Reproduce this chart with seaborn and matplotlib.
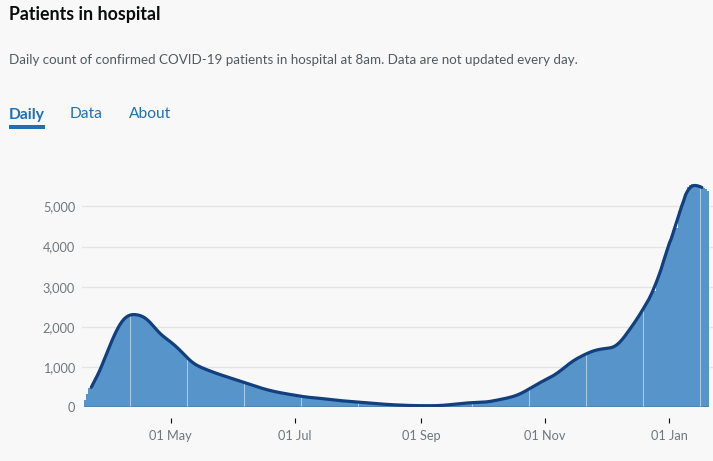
import matplotlib
matplotlib.use("Agg")
import matplotlib.pyplot as plt
import matplotlib.dates as mdates
from matplotlib.patches import Rectangle
from matplotlib.ticker import FuncFormatter
import numpy as np
import pandas as pd
import seaborn as sns

# ---------------- data ----------------
title = "Patients in hospital"
subtitle = ("Daily count of confirmed COVID-19 patients in hospital at 8am. "
            "Data are not updated every day.")
tabs = ["Daily", "Data", "About"]
start_date = "2020-03-20"

mar = [180, 330, 470, 520, 580, 650, 760, 890, 1020, 1150, 1270, 1400]
apr = [1530, 1650, 1770, 1880, 1990, 2080, 2160, 2220, 2270, 2300,
       2310, 2320, 2320, 2310, 2300, 2290, 2270, 2250, 2225, 2180,
       2120, 2050, 1985, 1920, 1865, 1815, 1775, 1735, 1700, 1665]
may = [1630, 1590, 1550, 1500, 1450, 1400, 1345, 1290, 1235, 1180,
       1135, 1095, 1060, 1035, 1010, 990, 970, 950, 930, 910,
       890, 870, 852, 835, 817, 800, 784, 768, 752, 736, 720]
jun = [705, 690, 672, 655, 638, 620, 603, 586, 569, 552,
       535, 518, 502, 486, 470, 455, 441, 428, 415, 403,
       392, 381, 371, 361, 352, 343, 334, 325, 317, 309]
jul = [300, 291, 282, 274, 266, 259, 253, 247, 242, 237,
       232, 228, 224, 220, 215, 209, 203, 197, 191, 185,
       179, 173, 168, 163, 158, 154, 150, 146, 142, 138, 134]
aug = [130, 127, 124, 120, 115, 110, 105, 100, 96, 92,
       88, 84, 80, 76, 72, 69, 66, 63, 60, 58,
       56, 54, 52, 50, 48, 46, 44, 43, 42, 41, 40]
sep = [40, 40, 40, 39, 39, 40, 40, 40, 41, 43,
       46, 50, 54, 58, 63, 68, 74, 80, 86, 93,
       100, 104, 107, 110, 112, 114, 116, 118, 120, 122]
oct_ = [124, 125, 130, 137, 145, 155, 165, 175, 185, 195,
        205, 215, 225, 237, 250, 265, 280, 295, 310, 335,
        365, 395, 425, 455, 485, 515, 545, 575, 605, 630, 655]
nov = [680, 705, 730, 755, 780, 810, 850, 890, 930, 970,
       1010, 1050, 1095, 1135, 1170, 1200, 1225, 1250, 1275, 1300,
       1325, 1355, 1375, 1395, 1410, 1425, 1440, 1448, 1455, 1460]
dec = [1465, 1468, 1470, 1475, 1495, 1525, 1560, 1620, 1690, 1760,
       1830, 1900, 1970, 2040, 2110, 2185, 2260, 2345, 2430, 2515,
       2600, 2700, 2800, 2910, 2900, 3160, 3300, 3450, 3600, 3760, 3920]
jan = [4080, 4240, 4400, 4560, 4450, 4880, 5040, 5200, 5350, 5470,
       5530, 5550, 5540, 5520, 5510, 5490, 5480, 5460, 5430, 5390]

y_ticks = [0, 1000, 2000, 3000, 4000, 5000]
x_tick_months = [1, 5, 7, 9, 11]

patients = mar + apr + may + jun + jul + aug + sep + oct_ + nov + dec + jan
dates = pd.date_range(start_date, periods=len(patients), freq="D")
df = pd.DataFrame({"date": dates, "patients": patients})
df["avg"] = df["patients"].rolling(7, center=True).mean()

# ---------------- style ----------------
BG = "#f8f8f8"
BAR = "#5694ca"
LINE = "#12407f"
GREY = "#6f777b"
BLUE = "#1d70b8"

sns.set_theme(style="white")
plt.rcParams["font.family"] = ["Lato", "DejaVu Sans"]

W, H = 713, 461
fig = plt.figure(figsize=(W / 100, H / 100), dpi=100)
fig.patch.set_facecolor(BG)

def fx(px):
    return px / W

def fy(py):
    return 1 - py / H

# header texts
fig.text(fx(9), fy(20), title, fontsize=12.8, fontweight="bold",
         color="#0b0c0c", va="baseline", ha="left")
fig.text(fx(9), fy(63.5), subtitle, fontsize=9.6, color="#505a5f",
         va="baseline", ha="left")
tab_x = [9, 70, 129]
for i, (t, x) in enumerate(zip(tabs, tab_x)):
    fig.text(fx(x), fy(118.5), t, fontsize=11.2,
             fontweight="bold" if i == 0 else "normal",
             color=BLUE, va="baseline", ha="left")
fig.patches.append(Rectangle((fx(9), fy(129)), (45 - 9) / W, 4 / H,
                             transform=fig.transFigure, color=BLUE,
                             linewidth=0))

# axes
base_y = 407.3
px_per_k = 40.2
ytop = 5800
ax_h = ytop / 1000 * px_per_k
left_px, right_px = 84.2, 709.0
ax = fig.add_axes([fx(left_px), (H - base_y) / H,
                   (right_px - left_px) / W, ax_h / H])
ax.set_facecolor("none")

ax.bar(df["date"], df["patients"], width=1.0, color=BAR, linewidth=0,
       antialiased=False, zorder=2)

# light seams visible inside the bars
seam_idx = np.arange(22, len(df), 28)
ax.vlines(df["date"].iloc[seam_idx], 0, df["patients"].iloc[seam_idx],
          color="white", alpha=0.5, linewidth=0.8, zorder=3)

sns.lineplot(data=df, x="date", y="avg", color=LINE, linewidth=2.3,
             ax=ax, zorder=4, solid_capstyle="round", solid_joinstyle="round")

# gridlines wider than plot area
for v in y_ticks[1:]:
    ax.axhline(v, xmin=-0.004, xmax=1.01, color="#e4e4e4", linewidth=1.0,
               zorder=0, clip_on=False)
ax.axhline(0, color="#3c4145", linewidth=1.0, zorder=5)

ax.set_ylim(0, ytop)
ax.set_xlim(dates[0] - pd.Timedelta(hours=12), dates[-1] + pd.Timedelta(hours=12))

ax.set_yticks(y_ticks)
ax.yaxis.set_major_formatter(FuncFormatter(lambda v, p: f"{int(v):,}"))
ax.tick_params(axis="y", length=0, pad=6.5, labelcolor=GREY, labelsize=9.2)

ax.xaxis.set_major_locator(mdates.MonthLocator(bymonth=x_tick_months, bymonthday=1))
ax.xaxis.set_major_formatter(mdates.DateFormatter("%d %b"))
ax.tick_params(axis="x", length=3.6, width=0.8, color="#0b0c0c", pad=5,
               labelcolor=GREY, labelsize=9.2, bottom=True)

for s in ["top", "right", "left"]:
    ax.spines[s].set_visible(False)
ax.spines["bottom"].set_position(("outward", 11 * 0.72))
ax.spines["bottom"].set_color("none")

ax.set_xlabel("")
ax.set_ylabel("")
ax.grid(False)

fig.savefig("out.png", dpi=100, facecolor=BG)
